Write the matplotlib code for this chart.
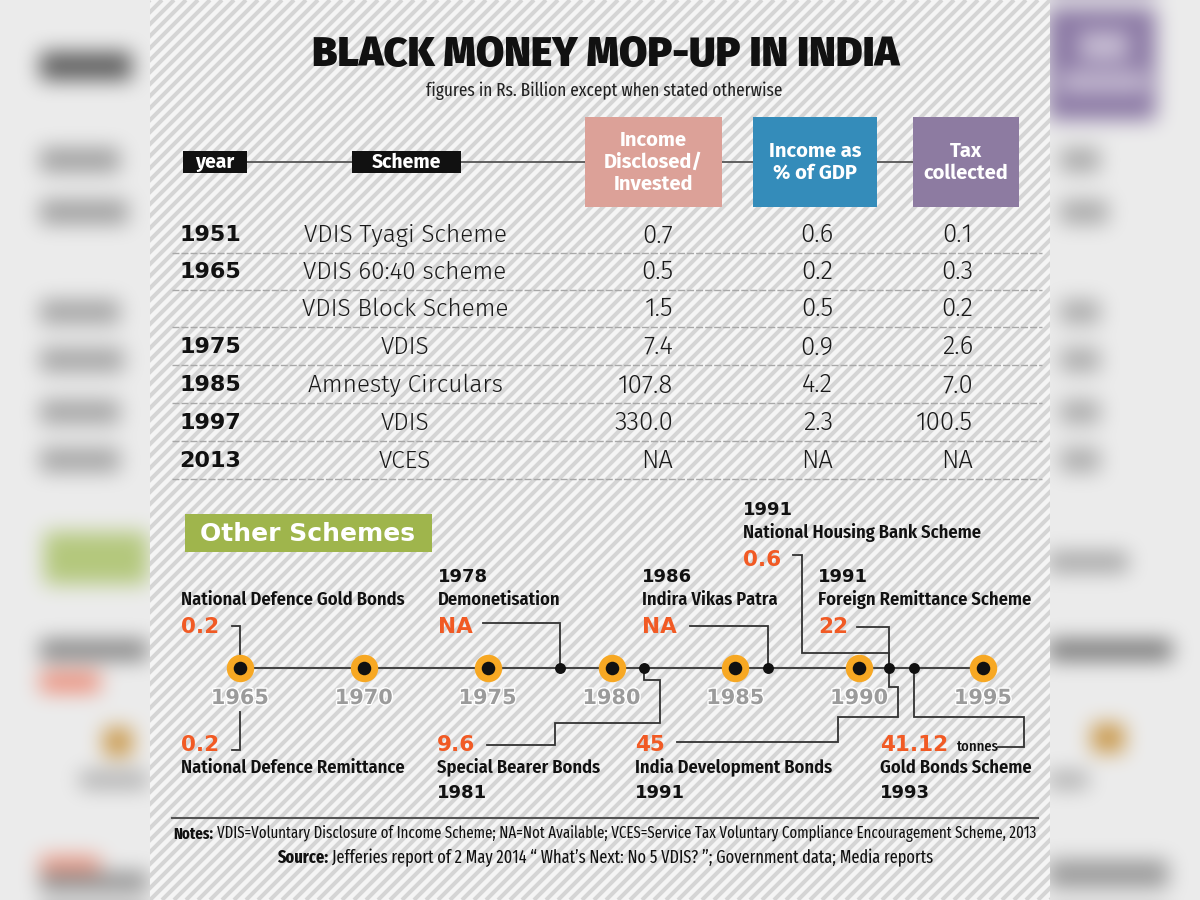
import numpy as np
import matplotlib
matplotlib.use('Agg')
import matplotlib.pyplot as plt
import matplotlib.patheffects as pe
from matplotlib.patches import Rectangle
from matplotlib.collections import LineCollection

# ---- data ----
table_years = ['1951', '1965', '', '1975', '1985', '1997', '2013']
schemes = ['VDIS Tyagi Scheme', 'VDIS 60:40 scheme', 'VDIS Block Scheme', 'VDIS',
           'Amnesty Circulars', 'VDIS', 'VCES']
income = [0.7, 0.5, 1.5, 7.4, 107.8, 330.0, None]
gdp_pct = [0.6, 0.2, 0.5, 0.9, 4.2, 2.3, None]
tax = [0.1, 0.3, 0.2, 2.6, 7.0, 100.5, None]

tick_years = [1965, 1970, 1975, 1980, 1985, 1990, 1995]
event_names = ['National Defence Gold Bonds', 'National Defence Remittance', 'Demonetisation',
               'Special Bearer Bonds', 'Indira Vikas Patra', 'National Housing Bank Scheme',
               'Foreign Remittance Scheme', 'India Development Bonds', 'Gold Bonds Scheme']
event_values = ['0.2', '0.2', 'NA', '9.6', 'NA', '0.6', '22', '45', '41.12']
event_years = ['', '', '1978', '1981', '1986', '1991', '1991', '1991', '1993']
event_dots = [1965, 1965, 1977.9, 1981.3, 1986.3, 1991.2, 1991.2, 1991.2, 1992.2]

# ---- fonts / colours ----
COND = ['Fira Sans Condensed', 'Roboto Condensed', 'DejaVu Sans']
XCOND = ['Fira Sans Extra Condensed', 'Roboto Condensed', 'DejaVu Sans']
LIGHT = ['Fira Sans', 'Roboto', 'DejaVu Sans']
HEAVY = ['DejaVu Sans']
ORANGE = '#f15a24'
W, H = 1200, 900
P0, P1 = 150, 1050

fig = plt.figure(figsize=(12, 9), dpi=100)
ax = fig.add_axes([0, 0, 1, 1])
ax.set_xlim(0, W)
ax.set_ylim(H, 0)
ax.axis('off')


# blurred side panels (thumbnail background)
def blur(a, r):
    p = np.pad(a, ((r, r), (0, 0), (0, 0)), mode='edge')
    c = np.concatenate([np.zeros((1,) + p.shape[1:]), np.cumsum(p, axis=0)])
    a = (c[2 * r + 1:] - c[:-2 * r - 1]) / (2 * r + 1)
    p = np.pad(a, ((0, 0), (r, r), (0, 0)), mode='edge')
    c = np.concatenate([np.zeros((p.shape[0], 1, 3)), np.cumsum(p, axis=1)], axis=1)
    return (c[:, 2 * r + 1:] - c[:, :-2 * r - 1]) / (2 * r + 1)


s = 4
img = np.ones((H // s, W // s, 3)) * 0.925
blobs = [
    (40, 132, 55, 80, (95, 95, 95)),
    (40, 120, 150, 172, (160, 160, 160)), (40, 130, 200, 225, (160, 160, 160)),
    (40, 120, 300, 325, (165, 165, 165)), (40, 125, 350, 375, (165, 165, 165)),
    (40, 122, 400, 425, (165, 165, 165)), (40, 120, 450, 475, (165, 165, 165)),
    (45, 150, 535, 585, (180, 200, 125)),
    (40, 150, 642, 660, (130, 130, 130)), (40, 100, 674, 694, (235, 140, 120)),
    (105, 135, 728, 756, (200, 150, 70)), (80, 150, 772, 790, (170, 170, 170)),
    (40, 100, 858, 878, (235, 150, 130)), (40, 150, 872, 892, (145, 145, 145)),
    (1050, 1158, 8, 122, (140, 122, 165)),
    (1062, 1100, 150, 175, (170, 170, 170)), (1062, 1110, 200, 225, (170, 170, 170)),
    (1062, 1100, 300, 325, (172, 172, 172)), (1062, 1100, 350, 375, (172, 172, 172)),
    (1062, 1100, 400, 425, (172, 172, 172)), (1062, 1100, 450, 475, (172, 172, 172)),
    (1050, 1130, 555, 575, (165, 165, 165)), (1050, 1175, 642, 662, (115, 115, 115)),
    (1095, 1125, 727, 755, (200, 150, 70)), (1050, 1090, 772, 790, (170, 170, 170)),
    (1050, 1170, 862, 890, (155, 155, 155)),
]
for x0, x1, y0, y1, col in blobs:
    img[y0 // s:y1 // s, x0 // s:x1 // s] = np.array(col) / 255
img[35 // s:60 // s, 1080 // s:1130 // s] = np.array((200, 190, 212)) / 255
img[72 // s:92 // s, 1062 // s:1150 // s] = np.array((200, 190, 212)) / 255
for _ in range(3):
    img = blur(img, 2)
ax.imshow(np.clip(img, 0, 1), extent=(0, W, H, 0), aspect='auto', zorder=0, interpolation='bicubic')

# striped panel
panel = Rectangle((P0, 0), P1 - P0, H, facecolor='#f5f5f5', edgecolor='none', zorder=1)
ax.add_patch(panel)
segs = [[(c, H), (c + H, 0)] for c in np.arange(P0 - H, P1 + 12, 12)]
stripes = LineCollection(segs, colors='#d5d5d5', linewidths=2.9, zorder=1.5)
ax.add_collection(stripes)
stripes.set_clip_path(panel)

# ---- title ----
ax.text(606, 55, 'BLACK MONEY MOP-UP IN INDIA', ha='center', va='center', fontsize=29.5,
        family=LIGHT, weight=900, color='#111111', zorder=5)
ax.text(604, 91, 'figures in Rs. Billion except when stated otherwise', ha='center', va='center',
        fontsize=13.5, family=XCOND, color='#222222', zorder=5)

# ---- table header ----
ax.plot([247, 913], [162, 162], color='#555555', lw=1.3, zorder=3)
for x0, x1, lab in [(183, 247, 'year'), (352, 461, 'Scheme')]:
    ax.add_patch(Rectangle((x0, 151), x1 - x0, 22, facecolor='#111111', zorder=4))
    ax.text((x0 + x1) / 2, 162.5, lab, ha='center', va='center', color='white', fontsize=14,
            family=LIGHT, weight='bold', zorder=5)
hdr = [(585, 722, '#dca198', ['Income', 'Disclosed/', 'Invested']),
       (753, 877, '#348cba', ['Income as', '% of GDP']),
       (913, 1019, '#8d7ba1', ['Tax', 'collected'])]
for x0, x1, col, lines in hdr:
    ax.add_patch(Rectangle((x0, 117), x1 - x0, 90, facecolor=col, zorder=4))
    n = len(lines)
    for i, ln in enumerate(lines):
        ax.text((x0 + x1) / 2, 162 + (i - (n - 1) / 2) * 22, ln, ha='center', va='center',
                color='white', fontsize=14.5, family=LIGHT, weight='bold', zorder=5)

# ---- table rows ----
row_y = [235, 272, 309, 347, 385, 423, 461]


def fmt(v):
    return 'NA' if v is None else f'{v:.1f}'


for i, y in enumerate(row_y):
    ax.text(179, y, table_years[i], ha='left', va='center', fontsize=16, family=HEAVY,
            weight='bold', color='#111111', zorder=5)
    ax.text(405, y, schemes[i], ha='center', va='center', fontsize=17.5, family=LIGHT,
            weight=300, color='#1a1a1a', zorder=5)
    for xr, col in [(673, income), (833, gdp_pct), (973, tax)]:
        ax.text(xr, y, fmt(col[i]), ha='right', va='center', fontsize=18.5, family=LIGHT,
                weight=300, color='#1a1a1a', zorder=5)
    ax.plot([172, 1042], [y + 17.5, y + 17.5], color='#a8a8a8', lw=1.0,
            ls=(0, (5, 1.5)), zorder=3)

# ---- other schemes ----
ax.add_patch(Rectangle((185, 514), 247, 38, facecolor='#9fb54c', zorder=4))
ax.text(308, 534, 'Other Schemes', ha='center', va='center', fontsize=18, family=HEAVY,
        weight='bold', color='white', zorder=5)

# timeline axes: x in years
PPY = 24.77
X0 = 1965 - 240 / PPY
tl = fig.add_axes([0, 0, 1, 1])
tl.set_xlim(X0, X0 + W / PPY)
tl.set_ylim(H, 0)
tl.axis('off')
tl.patch.set_visible(False)

TY = 668
tl.plot([tick_years[0], tick_years[-1]], [TY, TY], color='#444444', lw=1.5, zorder=2)
tl.scatter(tick_years, [TY] * len(tick_years), s=390, color='#f7a823', zorder=3, linewidths=0)
tl.scatter(tick_years, [TY] * len(tick_years), s=95, color='#111111', zorder=4, linewidths=0)
small = sorted(set(d for d in event_dots if d not in tick_years))
tl.scatter(small, [TY] * len(small), s=62, color='#111111', zorder=4, linewidths=0)
for yr in tick_years:
    tl.text(yr, 698, str(yr), ha='center', va='center', fontsize=15, family=HEAVY,
            weight='bold', color='#9b9b9b', zorder=5,
            path_effects=[pe.withStroke(linewidth=2, foreground='white')])


def yx(year):
    return (year - X0) * PPY


# label placement: (left x, first line y, above timeline?)
layout = [(181, 600, True), (181, 745, False), (438, 577, True), (437, 745, False),
          (642, 577, True), (743, 510, True), (818, 577, True), (635, 745, False),
          (880, 745, False)]
# leader lines, None = x of the event dot
leaders = [
    [(232, 626), (None, 626), (None, TY)],
    [(232, 750), (None, 750), (None, 712)],
    [(483, 623), (None, 623), (None, TY)],
    [(487, 745), (555, 745), (555, 723), (660, 723), (660, 680), (None, 680), (None, TY)],
    [(690, 626), (None, 626), (None, TY)],
    [(793, 555), (802, 555), (802, 653), (None, 653), (None, TY)],
    [(857, 627), (None, 627), (None, TY)],
    [(677, 742), (838, 742), (838, 717), (898, 717), (898, 687), (None, 687), (None, TY)],
    [(998, 747), (1024, 747), (1024, 717), (None, 717), (None, TY)],
]

for i, (x, y0, above) in enumerate(layout):
    if above:
        parts = [('year', event_years[i]), ('name', event_names[i]), ('val', event_values[i])]
        if not event_years[i]:
            parts = parts[1:]
        ys = [y0, y0 + 23, y0 + 50] if event_years[i] else [y0, y0 + 27]
    else:
        parts = [('val', event_values[i]), ('name', event_names[i]), ('year', event_years[i])]
        ys = [y0, y0 + 23, y0 + 48]
    for (kind, t), y in zip(parts, ys):
        if not t:
            continue
        if kind == 'year':
            ax.text(x, y, t, ha='left', va='center', fontsize=13, family=HEAVY, weight='bold',
                    color='#111111', zorder=5)
        elif kind == 'name':
            ax.text(x, y, t, ha='left', va='center', fontsize=13.3, family=COND, weight=600,
                    color='#111111', zorder=5)
        else:
            tv = ax.text(x, y, t, ha='left', va='center', fontsize=15.5, family=HEAVY,
                         weight='bold', color=ORANGE, zorder=5)
            if t == '41.12':
                ax.annotate('tonnes', xy=(1, 0.5), xycoords=tv, xytext=(6, -1.5),
                            textcoords='offset points', ha='left', va='center', fontsize=10.5,
                            family=COND, weight=500, color='#111111', zorder=5)
    pts = [(yx(event_dots[i]) if px is None else px, py) for px, py in leaders[i]]
    ax.plot([p[0] for p in pts], [p[1] for p in pts], color='#333333', lw=1.3, zorder=3,
            solid_joinstyle='miter')

# ---- notes ----
ax.plot([172, 1038], [818, 818], color='#555555', lw=1.5, zorder=3)
rend = fig.canvas.get_renderer()


def two_part(y, bold, rest, size):
    t1 = ax.text(0, y, bold, ha='left', va='center', fontsize=size, family=XCOND,
                 weight='bold', color='#111111', zorder=5)
    t2 = ax.text(0, y, rest, ha='left', va='center', fontsize=size, family=XCOND,
                 color='#111111', zorder=5)
    w1 = t1.get_window_extent(rend).width
    w2 = t2.get_window_extent(rend).width
    start = 605 - (w1 + 4 + w2) / 2
    t1.set_x(start)
    t2.set_x(start + w1 + 4)


two_part(834, 'Notes:', 'VDIS=Voluntary Disclosure of Income Scheme; NA=Not Available; '
         'VCES=Service Tax Voluntary Compliance Encouragement Scheme, 2013', 11.7)
two_part(858, 'Source:', 'Jefferies report of 2 May 2014 \u201c What\u2019s Next: No 5 VDIS? \u201d; '
         'Government data; Media reports', 12.8)

fig.savefig('out.png', dpi=100)
